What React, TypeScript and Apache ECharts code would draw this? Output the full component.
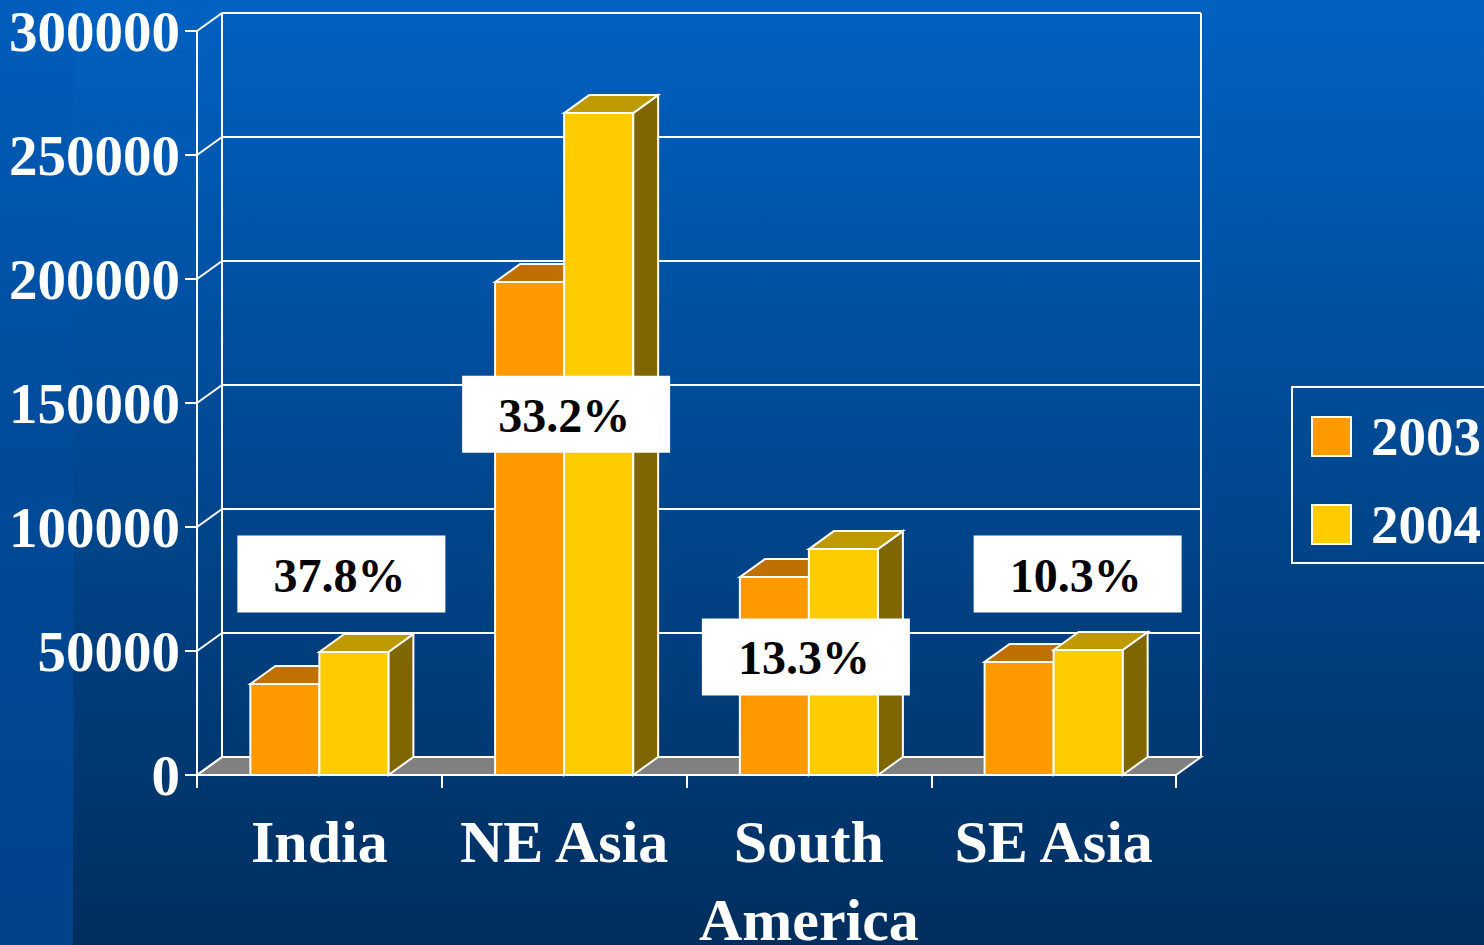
import { useEffect, useRef } from "react";
import * as echarts from "echarts";

const categories = ["India", "NE Asia", "South\nAmerica", "SE Asia"];
const seriesNames = ["2003", "2004"];
const values2003 = [36700, 198800, 79800, 45600];
const values2004 = [49600, 266900, 91100, 50400];
const growthLabels = ["37.8%", "33.2%", "13.3%", "10.3%"];
const growthLabelAt = [81000, 145500, 47600, 81000];
const yTicks = [0, 50000, 100000, 150000, 200000, 250000, 300000];

const DX = 25;
const DY = -18;
const BAR_FRACTION = 0.282;
const LABEL_SHIFT = [22, 2, -3, 24];
const LABEL_W = 208;
const LABEL_H = 77;
const FONT = '"Liberation Serif", "Times New Roman", serif';
const LINE = { stroke: "#ffffff", lineWidth: 2, lineJoin: "miter" };

function barSeries(name: string, values: number[], front: string, top: string, side: string, dir: number) {
  return {
    type: "custom",
    name,
    coordinateSystem: "cartesian2d",
    itemStyle: { color: front },
    encode: { x: 0, y: 1 },
    z: dir < 0 ? 3 : 4,
    data: values.map((v, i) => [i, v]),
    renderItem: (_params: any, api: any) => {
      const ci = api.value(0);
      const v = api.value(1);
      const p = api.coord([ci, v]);
      const b = api.coord([ci, 0]);
      const bw = api.size([1, 0])[0] * BAR_FRACTION;
      const xL = dir < 0 ? p[0] - bw : p[0];
      const xR = xL + bw;
      const yT = p[1];
      const yB = b[1];
      return {
        type: "group",
        children: [
          {
            type: "polygon",
            shape: { points: [[xR, yT], [xR + DX, yT + DY], [xR + DX, yB + DY], [xR, yB]] },
            style: { fill: side, ...LINE },
          },
          {
            type: "polygon",
            shape: { points: [[xL, yT], [xL + DX, yT + DY], [xR + DX, yT + DY], [xR, yT]] },
            style: { fill: top, ...LINE },
          },
          {
            type: "rect",
            shape: { x: xL, y: yT, width: bw, height: yB - yT },
            style: { fill: front, ...LINE },
          },
        ],
      };
    },
  };
}

export default function App() {
  const ref = useRef<HTMLDivElement>(null);
  useEffect(() => {
    if (!ref.current) return;
    const chart = echarts.init(ref.current, null, { renderer: "svg" });
    const option: any = {
      animation: false,
      grid: { left: 197, right: 308, top: 31, bottom: 170, containLabel: false, outerBoundsMode: "none" },
      legend: {
        left: 1292,
        top: 387,
        orient: "vertical",
        icon: "rect",
        itemWidth: 39,
        itemHeight: 39,
        itemGap: 33,
        padding: [22, 20, 11, 19],
        borderColor: "#ffffff",
        borderWidth: 2,
        textStyle: {
          color: "#ffffff",
          fontFamily: FONT,
          fontWeight: "bold",
          fontSize: 55,
          padding: [0, 0, 0, 15],
        },
        data: [
          { name: seriesNames[0], itemStyle: { color: "#FF9900", borderColor: "#ffffff", borderWidth: 2 } },
          { name: seriesNames[1], itemStyle: { color: "#FFCC00", borderColor: "#ffffff", borderWidth: 2 } },
        ],
      },
      xAxis: {
        type: "category",
        data: categories,
        axisLine: { show: true, lineStyle: { color: "#ffffff", width: 2 } },
        axisTick: { show: true, length: 13, lineStyle: { color: "#ffffff", width: 2 } },
        axisLabel: {
          interval: 0,
          color: "#ffffff",
          fontFamily: FONT,
          fontWeight: "bold",
          fontSize: 60,
          lineHeight: 78,
          margin: 28,
        },
        splitLine: { show: false },
      },
      yAxis: {
        type: "value",
        min: 0,
        max: 300000,
        interval: 50000,
        axisLine: { show: true, lineStyle: { color: "#ffffff", width: 2 } },
        axisTick: { show: true, length: 12, lineStyle: { color: "#ffffff", width: 2 } },
        axisLabel: {
          color: "#ffffff",
          fontFamily: FONT,
          fontWeight: "bold",
          fontSize: 57,
          margin: 17,
          formatter: (v: number) => String(v),
        },
        splitLine: { show: false },
      },
      series: [
        {
          type: "custom",
          name: "frame",
          silent: true,
          coordinateSystem: "cartesian2d",
          encode: { x: 0, y: 1 },
          z: -1,
          data: yTicks.map((t) => [0, t]),
          renderItem: (params: any, api: any) => {
            const p = api.coord([0, api.value(1)]);
            const band = api.size([1, 0])[0];
            const x0 = p[0] - band / 2;
            const x1 = x0 + band * categories.length;
            const y = p[1];
            const children: any[] = [];
            if (params.dataIndex === 0) {
              const yTop = api.coord([0, yTicks[yTicks.length - 1]])[1];
              children.push({
                type: "polygon",
                shape: { points: [[x0, y], [x1, y], [x1 + DX, y + DY], [x0 + DX, y + DY]] },
                style: { fill: "#808080", ...LINE },
              });
              children.push({
                type: "line",
                shape: { x1: x0 + DX, y1: yTop + DY, x2: x0 + DX, y2: y + DY },
                style: { ...LINE },
              });
              children.push({
                type: "line",
                shape: { x1: x1 + DX, y1: yTop + DY, x2: x1 + DX, y2: y + DY },
                style: { ...LINE },
              });
            }
            children.push({
              type: "line",
              shape: { x1: x0 + DX, y1: y + DY, x2: x1 + DX, y2: y + DY },
              style: { ...LINE },
            });
            children.push({
              type: "line",
              shape: { x1: x0, y1: y, x2: x0 + DX, y2: y + DY },
              style: { ...LINE },
            });
            return { type: "group", children };
          },
        },
        barSeries(seriesNames[0], values2003, "#FF9900", "#BF7000", "#805000", -1),
        barSeries(seriesNames[1], values2004, "#FFCC00", "#BF9900", "#806600", 1),
        {
          type: "custom",
          name: "growth",
          silent: true,
          coordinateSystem: "cartesian2d",
          encode: { x: 0, y: 1 },
          z: 10,
          data: growthLabelAt.map((v, i) => [i, v]),
          renderItem: (params: any, api: any) => {
            const i = params.dataIndex;
            const p = api.coord([api.value(0), api.value(1)]);
            const cx = p[0] + LABEL_SHIFT[i];
            return {
              type: "group",
              children: [
                {
                  type: "rect",
                  shape: { x: cx - LABEL_W / 2, y: p[1] - LABEL_H / 2, width: LABEL_W, height: LABEL_H },
                  style: { fill: "#ffffff" },
                },
                {
                  type: "text",
                  style: {
                    text: growthLabels[i],
                    x: cx - 2,
                    y: p[1] + 1,
                    align: "center",
                    verticalAlign: "middle",
                    fill: "#000000",
                    fontFamily: FONT,
                    fontWeight: "bold",
                    fontSize: 48,
                  },
                },
              ],
            };
          },
        },
      ],
    };
    chart.setOption(option);
    return () => chart.dispose();
  }, []);

  return (
    <div
      style={{
        position: "absolute",
        left: 0,
        top: 0,
        width: 1484,
        height: 945,
        overflow: "hidden",
        background: "linear-gradient(to bottom, #0061C1 0%, #004A95 45%, #002E5E 100%)",
      }}
    >
      <div
        style={{
          position: "absolute",
          left: 0,
          top: 0,
          width: 73,
          height: 945,
          background: "linear-gradient(to bottom, #005DBB 0%, #004A98 50%, #00428A 100%)",
        }}
      />
      <div ref={ref} style={{ position: "absolute", left: 0, top: 0, width: 1484, height: 945 }} />
    </div>
  );
}
